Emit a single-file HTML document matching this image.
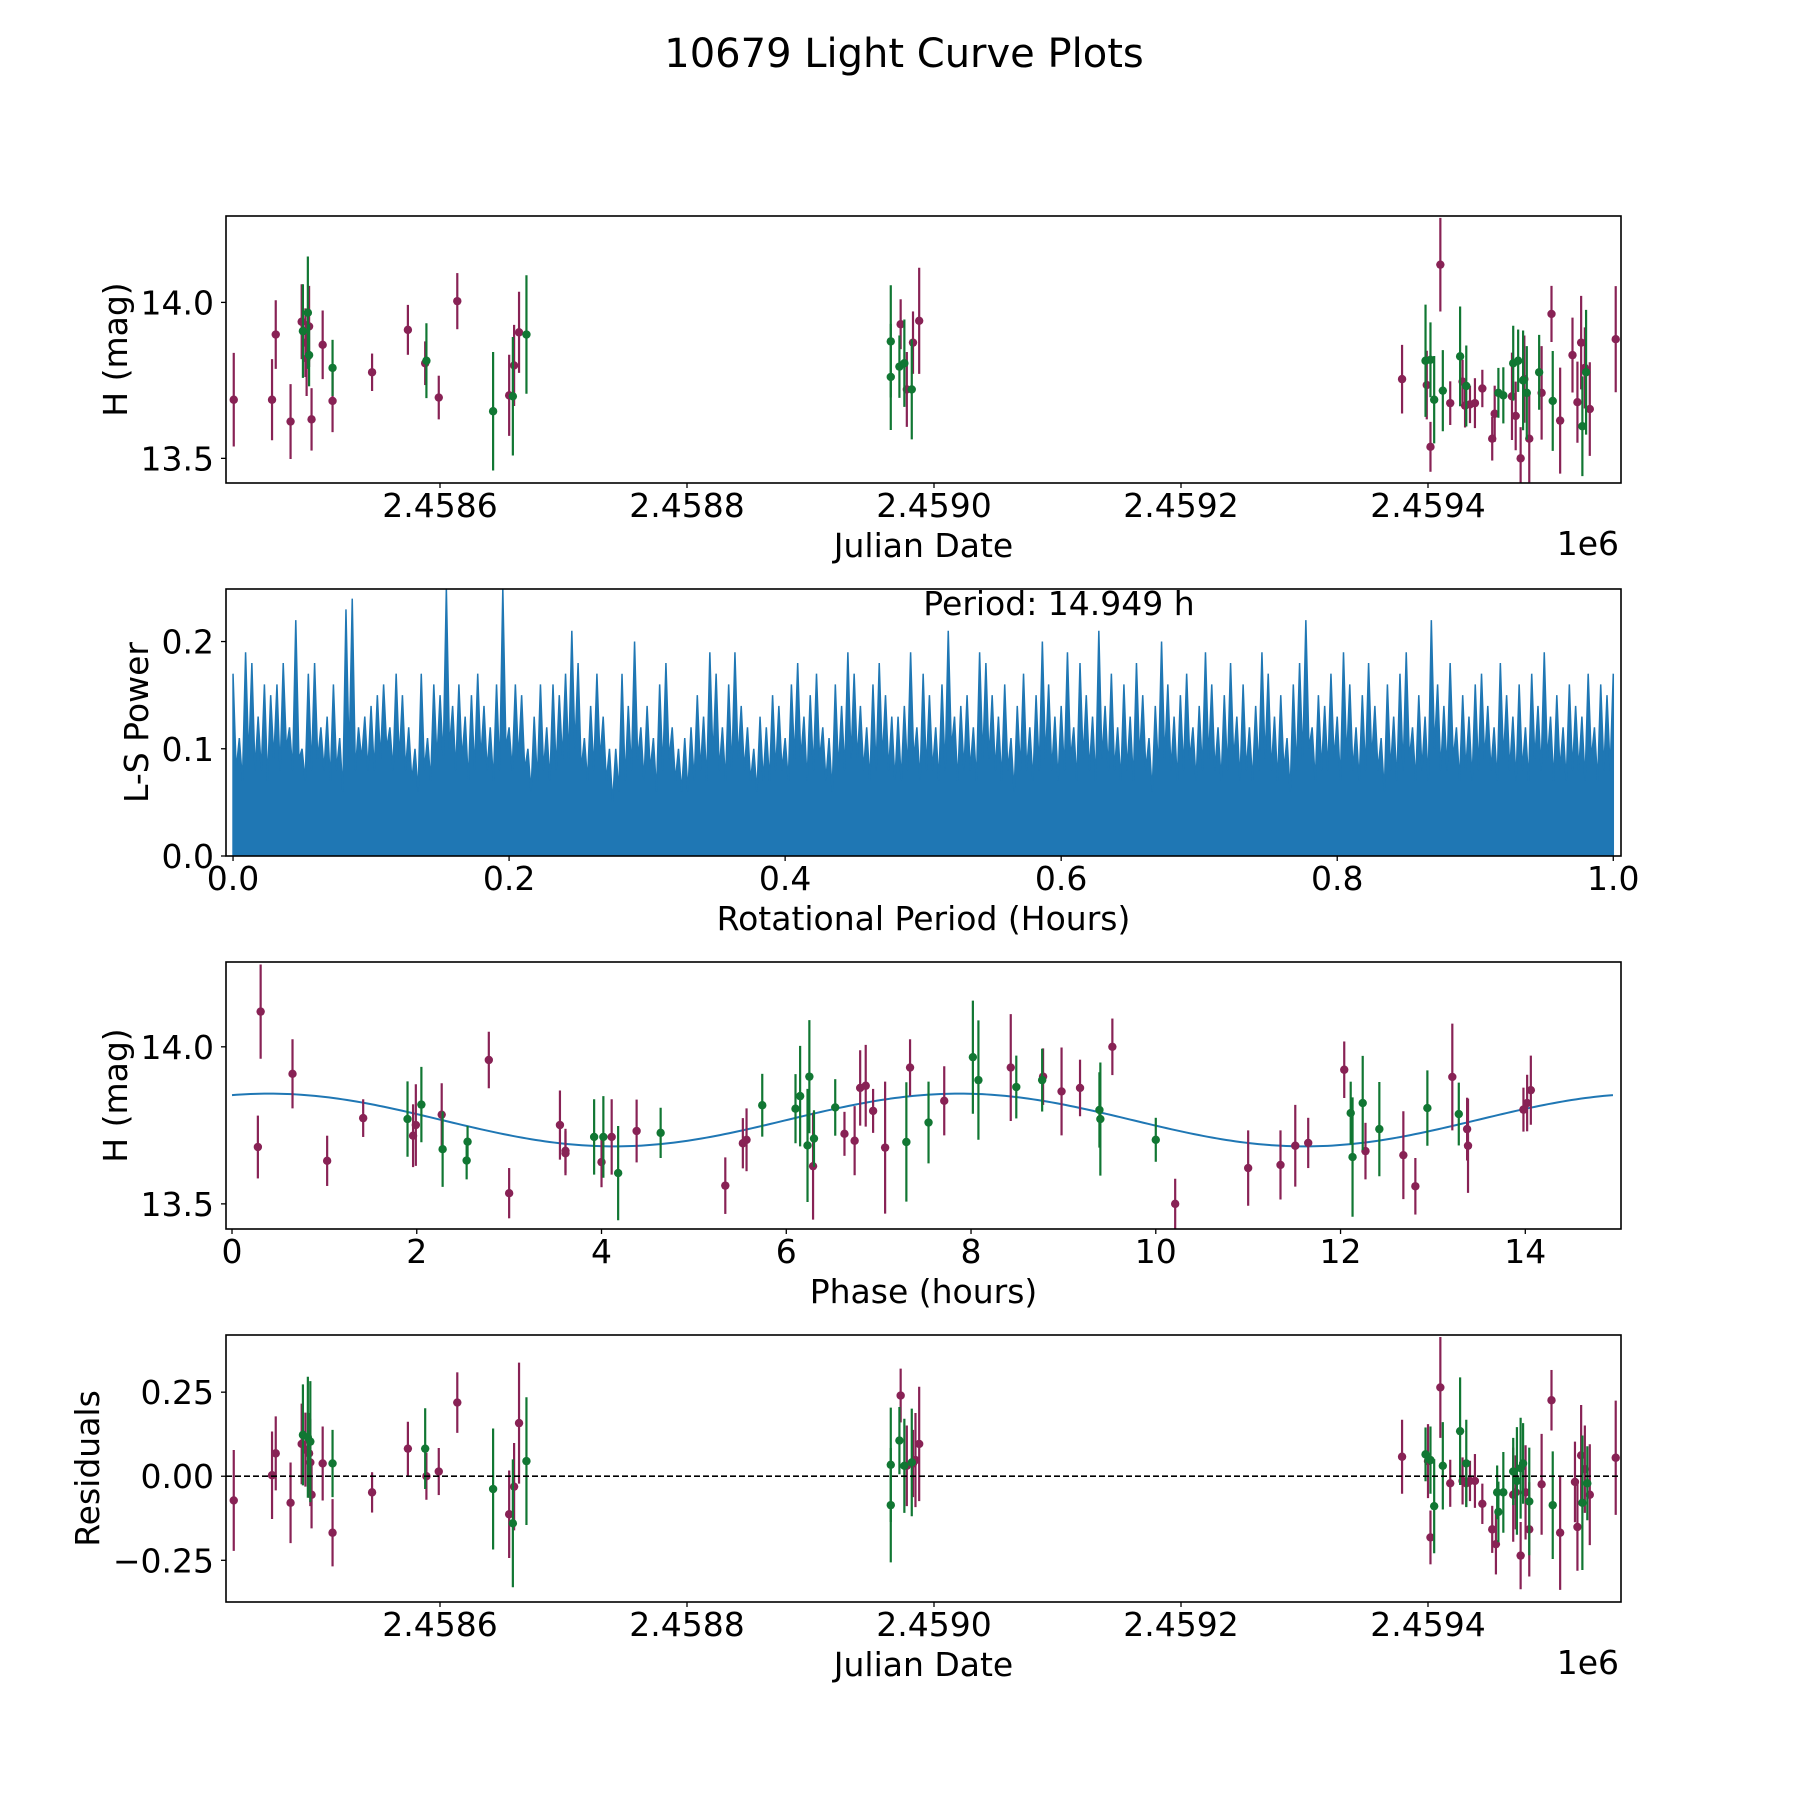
<!DOCTYPE html>
<html><head><meta charset="utf-8"><style>
html,body{margin:0;padding:0;background:#fff;}
svg{display:block;font-family:"DejaVu Sans","Liberation Sans",sans-serif;}
</style></head><body>
<svg id="fig" width="1800" height="1800" viewBox="0 0 1800 1800" xmlns="http://www.w3.org/2000/svg">
<rect width="1800" height="1800" fill="#fff"/>
<text x="904" y="67" font-size="40" text-anchor="middle">10679 Light Curve Plots</text>
</svg>
<script>
// ---- Panel 1: light curve (JD vs H mag) ----
const lcJdA = [2458433,2458464,2458467,2458479,2458488,2458491,2458492,2458494,2458496,2458505,2458513,2458545,2458574,2458588,2458599,2458614,2458656,2458660,2458664,2458973,2458978,2458983,2458988,2459379,2459399,2459402,2459410,2459418,2459428,2459430,2459434,2459438,2459444,2459452,2459454,2459468,2459471,2459475,2459478,2459482,2459492,2459500,2459507,2459517,2459521,2459524,2459527,2459531,2459552];
const lcMagA = [13.688,13.688,13.897,13.618,13.938,13.871,13.820,13.923,13.625,13.864,13.684,13.776,13.912,13.805,13.695,14.004,13.702,13.798,13.904,13.930,13.721,13.871,13.941,13.754,13.735,13.537,14.121,13.677,13.746,13.669,13.673,13.677,13.724,13.563,13.643,13.699,13.636,13.500,13.754,13.563,13.710,13.963,13.621,13.831,13.680,13.871,13.790,13.658,13.882];
const lcErrA = [0.15,0.13,0.11,0.12,0.12,0.11,0.12,0.13,0.10,0.11,0.10,0.06,0.08,0.07,0.07,0.09,0.13,0.13,0.13,0.08,0.12,0.10,0.17,0.11,0.11,0.08,0.15,0.07,0.07,0.07,0.06,0.08,0.06,0.07,0.09,0.14,0.11,0.10,0.14,0.14,0.15,0.09,0.17,0.12,0.13,0.15,0.13,0.15,0.17];
const lcJdB = [2458489,2458493,2458494,2458513,2458589,2458643,2458659,2458670,2458965,2458965,2458972,2458976,2458982,2459398,2459402,2459405,2459412,2459426,2459431,2459457,2459461,2459469,2459473,2459477,2459480,2459490,2459501,2459525,2459528];
const lcMagB = [13.908,13.967,13.831,13.790,13.813,13.651,13.699,13.897,13.875,13.761,13.794,13.805,13.721,13.813,13.816,13.688,13.717,13.827,13.732,13.710,13.702,13.805,13.813,13.750,13.710,13.776,13.684,13.603,13.776];
const lcErrB = [0.15,0.18,0.10,0.09,0.12,0.19,0.19,0.19,0.18,0.17,0.10,0.14,0.16,0.18,0.12,0.14,0.13,0.16,0.13,0.08,0.09,0.12,0.10,0.16,0.15,0.12,0.16,0.16,0.20];
const lcXTicks = [2458600,2458800,2459000,2459200,2459400];
const lcXTickLabels = ["2.4586","2.4588","2.4590","2.4592","2.4594"];
const magTicks = [13.5,14.0];
const magTickLabels = ["13.5","14.0"];

// ---- Panel 2: periodogram ----
const lsPeaks = [
0.17,0.11,0.19,0.18,0.13,0.16,0.15,0.16,0.18,0.12,0.22,0.10,0.17,0.18,0.12,0.13,0.16,0.11,0.23,0.24,
0.12,0.13,0.14,0.15,0.16,0.12,0.17,0.15,0.12,0.10,0.17,0.11,0.16,0.15,0.25,0.14,0.16,0.13,0.15,0.17,
0.14,0.12,0.16,0.25,0.12,0.16,0.15,0.10,0.13,0.16,0.12,0.16,0.15,0.17,0.21,0.18,0.11,0.14,0.17,0.13,
0.10,0.10,0.17,0.14,0.20,0.12,0.14,0.11,0.16,0.18,0.12,0.10,0.11,0.12,0.15,0.13,0.19,0.17,0.12,0.16,
0.19,0.14,0.12,0.10,0.13,0.12,0.15,0.14,0.11,0.16,0.18,0.13,0.15,0.17,0.12,0.11,0.16,0.14,0.19,0.17,
0.14,0.12,0.16,0.18,0.15,0.13,0.13,0.14,0.19,0.12,0.17,0.15,0.12,0.16,0.21,0.13,0.14,0.15,0.12,0.19,
0.18,0.15,0.13,0.16,0.11,0.14,0.17,0.12,0.15,0.20,0.16,0.13,0.14,0.19,0.12,0.18,0.15,0.13,0.21,0.14,
0.17,0.12,0.16,0.13,0.18,0.15,0.11,0.14,0.20,0.16,0.13,0.15,0.17,0.12,0.14,0.19,0.16,0.12,0.15,0.18,
0.13,0.16,0.12,0.14,0.19,0.17,0.13,0.15,0.11,0.16,0.18,0.22,0.12,0.15,0.14,0.17,0.13,0.19,0.16,0.12,
0.15,0.18,0.14,0.11,0.16,0.13,0.17,0.19,0.12,0.15,0.13,0.22,0.16,0.14,0.18,0.12,0.15,0.13,0.16,0.17,
0.14,0.12,0.18,0.15,0.13,0.16,0.12,0.17,0.14,0.19,0.13,0.15,0.12,0.16,0.14,0.13,0.17,0.12,0.16,0.15];
const lsTroughs = [
0.08,0.07,0.09,0.08,0.08,0.07,0.09,0.08,0.10,0.08,0.09,0.07,0.08,0.09,0.08,0.07,0.08,0.06,0.09,0.08,
0.09,0.08,0.08,0.09,0.10,0.08,0.09,0.08,0.07,0.06,0.08,0.07,0.09,0.09,0.10,0.08,0.09,0.07,0.08,0.09,
0.08,0.07,0.08,0.10,0.08,0.09,0.08,0.06,0.07,0.08,0.07,0.08,0.09,0.09,0.10,0.08,0.07,0.08,0.09,0.07,
0.05,0.06,0.07,0.08,0.09,0.07,0.08,0.06,0.08,0.09,0.07,0.06,0.06,0.07,0.08,0.07,0.09,0.08,0.07,0.08,
0.09,0.08,0.07,0.06,0.07,0.07,0.08,0.08,0.07,0.09,0.09,0.07,0.08,0.09,0.07,0.06,0.08,0.08,0.09,0.09,
0.08,0.07,0.08,0.09,0.08,0.07,0.07,0.08,0.09,0.07,0.08,0.08,0.07,0.08,0.10,0.07,0.08,0.08,0.07,0.09,
0.09,0.08,0.07,0.08,0.06,0.08,0.08,0.07,0.08,0.09,0.08,0.07,0.08,0.09,0.07,0.09,0.08,0.07,0.09,0.08,
0.08,0.07,0.08,0.07,0.09,0.08,0.06,0.08,0.09,0.08,0.07,0.08,0.09,0.07,0.08,0.09,0.08,0.07,0.08,0.09,
0.07,0.08,0.07,0.08,0.09,0.08,0.07,0.08,0.06,0.08,0.09,0.10,0.07,0.08,0.08,0.09,0.07,0.09,0.08,0.07,
0.08,0.09,0.08,0.06,0.08,0.07,0.08,0.09,0.07,0.08,0.07,0.10,0.08,0.08,0.09,0.07,0.08,0.07,0.08,0.09,
0.08,0.07,0.09,0.08,0.07,0.08,0.07,0.09,0.08,0.09,0.07,0.08,0.07,0.08,0.08,0.07,0.09,0.07,0.08,0.08];
const lsXTicks = [0,0.2,0.4,0.6,0.8,1.0];
const lsXTickLabels = ["0.0","0.2","0.4","0.6","0.8","1.0"];
const lsYTicks = [0,0.1,0.2];
const lsYTickLabels = ["0.0","0.1","0.2"];
const periodLabel = "Period: 14.949 h";

// ---- Panel 3: phased light curve ----
const phA = [0.28,0.31,0.655,1.03,1.42,1.96,1.99,2.27,2.78,3.00,3.55,3.61,3.61,4.00,4.11,4.38,5.34,5.53,5.57,6.29,6.63,6.74,6.80,6.86,6.94,7.07,7.34,7.71,8.43,8.78,8.98,9.18,9.53,10.21,11.00,11.35,11.51,11.65,12.04,12.27,12.68,12.81,13.21,13.37,13.38,13.98,14.02,14.06];
const phMagA = [13.681,14.112,13.914,13.637,13.773,13.717,13.751,13.784,13.958,13.534,13.751,13.669,13.661,13.633,13.713,13.732,13.558,13.693,13.704,13.620,13.723,13.701,13.869,13.876,13.796,13.679,13.934,13.828,13.934,13.905,13.858,13.869,14.000,13.500,13.614,13.624,13.685,13.694,13.927,13.668,13.655,13.556,13.904,13.738,13.685,13.800,13.821,13.862];
const phErrA = [0.10,0.15,0.11,0.08,0.06,0.10,0.13,0.10,0.09,0.08,0.11,0.07,0.07,0.08,0.12,0.10,0.09,0.08,0.10,0.17,0.07,0.11,0.12,0.13,0.07,0.21,0.09,0.11,0.17,0.09,0.14,0.09,0.09,0.08,0.12,0.11,0.13,0.08,0.09,0.09,0.14,0.09,0.17,0.10,0.15,0.07,0.09,0.11];
const phB = [1.90,2.05,2.28,2.54,2.55,3.92,4.02,4.18,4.64,5.74,6.10,6.15,6.23,6.25,6.30,6.53,7.30,7.54,8.02,8.08,8.49,8.77,9.39,9.40,10.00,12.11,12.13,12.24,12.42,12.94,13.28];
const phMagB = [13.770,13.816,13.674,13.638,13.698,13.713,13.713,13.598,13.726,13.814,13.803,13.843,13.686,13.905,13.708,13.807,13.697,13.759,13.967,13.894,13.872,13.894,13.799,13.770,13.704,13.789,13.649,13.821,13.738,13.805,13.786];
const phErrB = [0.12,0.12,0.12,0.06,0.05,0.12,0.13,0.15,0.08,0.10,0.11,0.16,0.18,0.18,0.09,0.09,0.19,0.13,0.18,0.19,0.10,0.10,0.12,0.18,0.07,0.10,0.19,0.15,0.15,0.12,0.10];
const fitMean = [13.767];
const fitAmp = [0.084];
const fitPeakPhase = [0.4];
const fitPeriodHours = [14.949];
const phXTicks = [0,2,4,6,8,10,12,14];
const phXTickLabels = ["0","2","4","6","8","10","12","14"];

// ---- Panel 4: residuals ----
const resJdA = [2458433,2458464,2458467,2458479,2458488,2458491,2458494,2458495,2458496,2458505,2458513,2458545,2458574,2458589,2458599,2458614,2458656,2458660,2458664,2458973,2458978,2458983,2458985,2458988,2459379,2459400,2459402,2459410,2459418,2459428,2459431,2459434,2459438,2459444,2459452,2459455,2459469,2459471,2459475,2459479,2459482,2459492,2459500,2459507,2459519,2459521,2459524,2459527,2459531,2459552];
const resValA = [-0.072,0.003,0.068,-0.079,0.096,0.079,0.068,0.041,-0.055,0.038,-0.168,-0.048,0.082,0.000,0.014,0.219,-0.113,-0.031,0.158,0.240,0.031,0.038,0.048,0.096,0.058,0.045,-0.182,0.264,-0.021,-0.014,-0.021,-0.014,-0.014,-0.082,-0.158,-0.202,-0.055,-0.048,-0.236,-0.048,-0.158,-0.024,0.226,-0.168,-0.017,-0.151,0.062,0.021,-0.055,0.055];
const resErrA = [0.15,0.13,0.11,0.12,0.12,0.11,0.12,0.13,0.10,0.11,0.10,0.06,0.08,0.07,0.07,0.09,0.13,0.13,0.18,0.08,0.12,0.10,0.14,0.17,0.11,0.11,0.08,0.15,0.07,0.07,0.07,0.06,0.08,0.06,0.07,0.09,0.14,0.11,0.10,0.14,0.14,0.15,0.09,0.17,0.12,0.13,0.15,0.13,0.15,0.17];
const resJdB = [2458489,2458493,2458495,2458513,2458588,2458643,2458659,2458670,2458965,2458965,2458972,2458976,2458982,2459398,2459402,2459405,2459412,2459426,2459431,2459456,2459457,2459461,2459469,2459472,2459475,2459477,2459482,2459501,2459525,2459529];
const resValB = [0.123,0.116,0.103,0.038,0.082,-0.038,-0.140,0.045,0.034,-0.086,0.106,0.031,0.041,0.065,0.048,-0.089,0.031,0.134,0.038,-0.048,-0.106,-0.048,0.014,-0.014,0.024,0.038,-0.075,-0.086,-0.079,-0.021];
const resErrB = [0.15,0.18,0.18,0.10,0.12,0.18,0.19,0.19,0.17,0.17,0.10,0.14,0.16,0.08,0.10,0.14,0.13,0.16,0.13,0.08,0.09,0.12,0.10,0.16,0.15,0.12,0.16,0.16,0.20,0.11];
const resYTicks = [-0.25,0,0.25];
const resYTickLabels = ["\u22120.25","0.00","0.25"];

const NS = "http://www.w3.org/2000/svg";
const svg = document.getElementById("fig");
const COL_A = "#882255", COL_B = "#117733", COL_LS = "#1f77b4";
const L = 226, R = 1621;
const FS = 33;

function mk(tag, attrs, parent) {
  const e = document.createElementNS(NS, tag);
  for (const k in attrs) e.setAttribute(k, attrs[k]);
  (parent || svg).appendChild(e);
  return e;
}
function lin(d0, d1, r0, r1) { return v => r0 + (v - d0) * (r1 - r0) / (d1 - d0); }

function axesFrame(name) {
  const g = mk("g", {});
  
  
  return g;
}
function frame(g, top, bot) {
  const r = mk("rect", {x: L, y: top, width: R - L, height: bot - top, fill: "none", stroke: "#000", "stroke-width": 1.6}, g);
  
  
}
function xTicks(g, xs, ticks, labels, bot) {
  ticks.forEach((t, i) => {
    const x = xs(t);
    const ln = mk("line", {x1: x, x2: x, y1: bot, y2: bot + 5, stroke: "#000", "stroke-width": 1.3}, g);
    
    
    const tx = mk("text", {x: x, y: bot + 34, "font-size": FS, "text-anchor": "middle"}, g);
    tx.textContent = labels[i];
    
    
  });
}
function yTicks(g, ys, ticks, labels) {
  ticks.forEach((t, i) => {
    const y = ys(t);
    const ln = mk("line", {x1: L - 5, x2: L, y1: y, y2: y, stroke: "#000", "stroke-width": 1.3}, g);
    
    
    const tx = mk("text", {x: L - 12, y: y + 12, "font-size": FS, "text-anchor": "end"}, g);
    tx.textContent = labels[i];
    
    
  });
}
function xLabel(g, text, y) {
  const tx = mk("text", {x: (L + R) / 2, y: y, "font-size": FS, "text-anchor": "middle"}, g);
  tx.textContent = text;
  
  
}
function yLabel(g, text, x, cy) {
  const tx = mk("text", {x: x, y: cy, "font-size": FS, "text-anchor": "middle", transform: `rotate(-90 ${x} ${cy})`}, g);
  tx.textContent = text;
  
  
}
function offsetLabel(g, y) {
  const tx = mk("text", {x: R - 2, y: y, "font-size": FS, "text-anchor": "end"}, g);
  tx.textContent = "1e6";
  
  
}
function errSeries(g, xs, ys, xv, yv, ev, col, name) {
  const s = mk("g", {}, g);
  
  
  xv.forEach((x, i) => {
    const px = xs(x);
    const ln = mk("line", {x1: px, x2: px, y1: ys(yv[i] - ev[i]), y2: ys(yv[i] + ev[i]), stroke: col, "stroke-width": 2.2}, s);
    
    
  });
  xv.forEach((x, i) => {
    const c = mk("circle", {cx: xs(x), cy: ys(yv[i]), r: 4.2, fill: col}, s);
    
    
  });
}
function clip(id, top, bot) {
  const cp = mk("clipPath", {id: id});
  mk("rect", {x: L, y: top, width: R - L, height: bot - top}, cp);
}

// JD axis: 2458600 -> x=440, 1.235 px/day
const JD0 = 2458600 - (440 - L) / 1.235, JD1 = 2458600 + (R - 440) / 1.235;

// Panel 1
(function () {
  const top = 216, bot = 483;
  const xs = lin(JD0, JD1, L, R), ys = lin(13.421, 14.277, bot, top);
  const g = axesFrame("light-curve-panel");
  clip("c1", top, bot);
  const d = mk("g", {"clip-path": "url(#c1)"}, g);
  errSeries(d, xs, ys, lcJdA, lcMagA, lcErrA, COL_A, "series-filter-a");
  errSeries(d, xs, ys, lcJdB, lcMagB, lcErrB, COL_B, "series-filter-b");
  frame(g, top, bot);
  xTicks(g, xs, lcXTicks, lcXTickLabels, bot);
  yTicks(g, ys, magTicks, magTickLabels);
  xLabel(g, "Julian Date", bot + 74);
  offsetLabel(g, bot + 72);
  yLabel(g, "H (mag)", 127, (top + bot) / 2);
})();

// Panel 2
(function () {
  const top = 589, bot = 856;
  const xs = lin(-0.0051, 1.0056, L, R), ys = lin(0, 0.249, bot, top);
  const g = axesFrame("periodogram-panel");
  clip("c2", top, bot);
  const d = mk("g", {"clip-path": "url(#c2)"}, g);
  const n = lsPeaks.length;
  let pts = [`${xs(0)},${ys(0)}`];
  lsPeaks.forEach((p, i) => {
    const x0 = i / n, x1 = (i + 0.5) / n;
    pts.push(`${xs(x0)},${ys(p)}`);
    pts.push(`${xs(x1)},${ys(lsTroughs[i])}`);
  });
  pts.push(`${xs(1)},${ys(lsPeaks[0])}`);
  pts.push(`${xs(1)},${ys(0)}`);
  const poly = mk("polygon", {points: pts.join(" "), fill: COL_LS, stroke: COL_LS, "stroke-width": 1.5, "stroke-linejoin": "miter"}, d);
  
  
  frame(g, top, bot);
  xTicks(g, xs, lsXTicks, lsXTickLabels, bot);
  yTicks(g, ys, lsYTicks, lsYTickLabels);
  xLabel(g, "Rotational Period (Hours)", bot + 74);
  yLabel(g, "L-S Power", 148, (top + bot) / 2);
  const t = mk("text", {x: 1059, y: top + 26, "font-size": FS, "text-anchor": "middle"}, g);
  t.textContent = periodLabel;
  
  
})();

// Panel 3
(function () {
  const top = 962, bot = 1229;
  const xs = lin(-0.065, 15.036, L, R), ys = lin(13.42, 14.27, bot, top);
  const g = axesFrame("phased-curve-panel");
  clip("c3", top, bot);
  const d = mk("g", {"clip-path": "url(#c3)"}, g);
  const P = fitPeriodHours[0];
  let pts = [];
  for (let k = 0; k <= 300; k++) {
    const t = P * k / 300;
    const m = fitMean[0] + fitAmp[0] * Math.cos(4 * Math.PI * (t - fitPeakPhase[0]) / P);
    pts.push(`${xs(t)},${ys(m)}`);
  }
  const fit = mk("polyline", {points: pts.join(" "), fill: "none", stroke: COL_LS, "stroke-width": 2}, d);
  
  
  errSeries(d, xs, ys, phA, phMagA, phErrA, COL_A, "phased-series-filter-a");
  errSeries(d, xs, ys, phB, phMagB, phErrB, COL_B, "phased-series-filter-b");
  frame(g, top, bot);
  xTicks(g, xs, phXTicks, phXTickLabels, bot);
  yTicks(g, ys, magTicks, magTickLabels);
  xLabel(g, "Phase (hours)", bot + 74);
  yLabel(g, "H (mag)", 127, (top + bot) / 2);
})();

// Panel 4
(function () {
  const top = 1335, bot = 1602;
  const xs = lin(JD0, JD1, L, R), ys = lin(-0.374, 0.42, bot, top);
  const g = axesFrame("residuals-panel");
  clip("c4", top, bot);
  const d = mk("g", {"clip-path": "url(#c4)"}, g);
  errSeries(d, xs, ys, resJdA, resValA, resErrA, COL_A, "residual-series-filter-a");
  errSeries(d, xs, ys, resJdB, resValB, resErrB, COL_B, "residual-series-filter-b");
  const z = mk("line", {x1: L, x2: R, y1: ys(0), y2: ys(0), stroke: "#000", "stroke-width": 1.6, "stroke-dasharray": "6,3"}, d);
  
  
  frame(g, top, bot);
  xTicks(g, xs, lcXTicks, lcXTickLabels, bot);
  yTicks(g, ys, resYTicks, resYTickLabels);
  xLabel(g, "Julian Date", bot + 74);
  offsetLabel(g, bot + 72);
  yLabel(g, "Residuals", 99, (top + bot) / 2);
})();
</script>
</body></html>
